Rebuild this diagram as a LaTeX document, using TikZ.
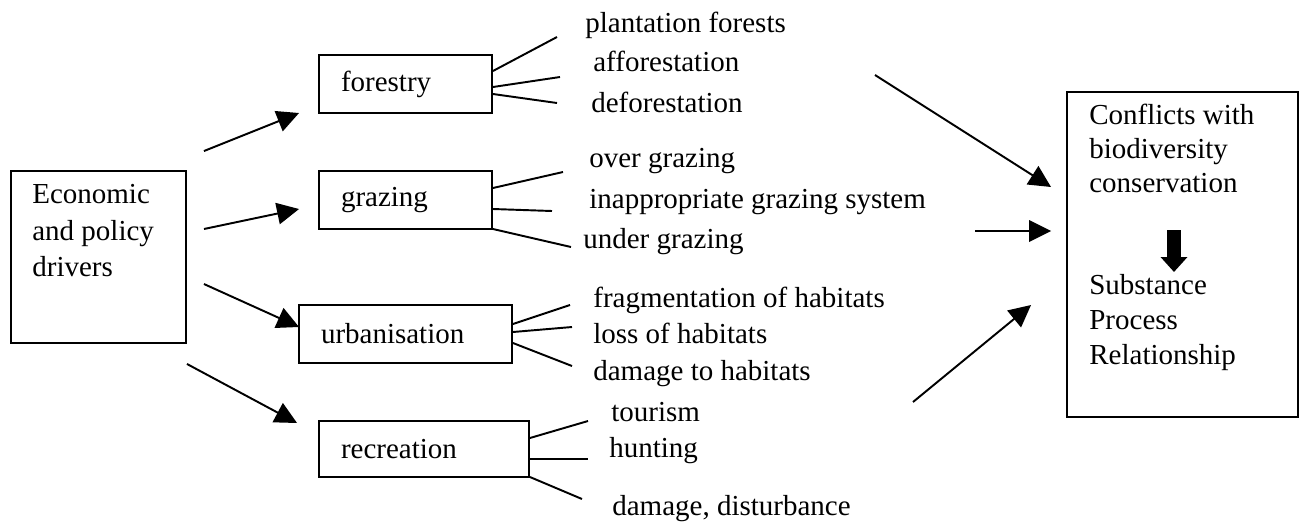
\documentclass[tikz,border=0pt]{standalone}
\usepackage{fontspec}
\setmainfont{Liberation Serif}
\usetikzlibrary{arrows.meta}

\begin{document}
\begin{tikzpicture}[
  x=0.02cm, y=-0.02cm,
  every node/.style = {font=\fontsize{16.5pt}{20.8pt}\selectfont},
  lbl/.style    = {anchor=base west, inner sep=0pt},
  txt/.style    = {anchor=north west, inner sep=0pt, align=left},
  box/.style    = {draw, line width=1.1pt, inner xsep=0.44cm, inner ysep=0pt,
                   align=left, minimum height=1.16cm},
  bigbox/.style = {draw, line width=1.1pt},
  fan/.style    = {line width=1.1pt},
  arr/.style    = {-{Triangle[length=0.44cm, width=0.43cm]}, line width=1.1pt},
  fatarr/.style = {-{Triangle[length=0.3cm, width=0.52cm]}, line width=0.28cm},
]
  \useasboundingbox (0,0) rectangle (1302,522);

  % drivers
  \node[bigbox, minimum width=3.5cm, minimum height=3.44cm] (drv) at (98.5,257) {};
  \node[txt] (drvtxt) at (32,184) {Economic\\and policy\\drivers};

  % land uses
  \node[box, text width=2.58cm] (fo) at (405.5,84)  {forestry};
  \node[box, text width=2.58cm] (gr) at (405.5,200) {grazing};
  \node[box, text width=3.38cm] (ur) at (405.5,334) {urbanisation};
  \node[box, text width=3.32cm, minimum height=1.12cm] (re) at (424,449) {recreation};

  % impacts
  \node[lbl] (pf)  at (585,32)  {plantation forests};
  \node[lbl] (af)  at (593,71)  {afforestation};
  \node[lbl] (df)  at (591,112) {deforestation};
  \node[lbl] (og)  at (589,167) {over grazing};
  \node[lbl] (ig)  at (589,208) {inappropriate grazing system};
  \node[lbl] (ug)  at (583,248) {under grazing};
  \node[lbl] (fh)  at (593,307) {fragmentation of habitats};
  \node[lbl] (lh)  at (593,343) {loss of habitats};
  \node[lbl] (dh)  at (593,380) {damage to habitats};
  \node[lbl] (tou) at (611,421) {tourism};
  \node[lbl] (hu)  at (609,457) {hunting};
  \node[lbl] (dd)  at (612,515) {damage, disturbance};

  % conflicts
  \node[bigbox, minimum width=4.62cm, minimum height=6.5cm] (cb) at (1182.5,254.5) {};
  \node[txt, font=\fontsize{16.5pt}{19.3pt}\selectfont] (cfl) at (1089,104)
       {Conflicts with\\biodiversity\\conservation};
  \node[txt, font=\fontsize{16.5pt}{19.9pt}\selectfont] (spr) at (1089,274)
       {Substance\\Process\\Relationship};

  % fans
  \draw[fan] (fo.east |- 0,71)  -- ([shift={(-28,5)}]pf.base west);
  \draw[fan] (fo.east |- 0,87)  -- ([shift={(-33,6)}]af.base west);
  \draw[fan] (fo.east |- 0,94)  -- ([shift={(-34,-9)}]df.base west);
  \draw[fan] (gr.east |- 0,188) -- ([shift={(-26,5)}]og.base west);
  \draw[fan] (gr.east |- 0,209) -- ([shift={(-37,3)}]ig.base west);
  \draw[fan] (gr.east |- 0,229) -- ([shift={(-12,-1)}]ug.base west);
  \draw[fan] (ur.east |- 0,324) -- ([shift={(-23,-2)}]fh.base west);
  \draw[fan] (ur.east |- 0,332) -- ([shift={(-21,-16)}]lh.base west);
  \draw[fan] (ur.east |- 0,343) -- ([shift={(-21,-14)}]dh.base west);
  \draw[fan] (re.east |- 0,438) -- ([shift={(-23,0)}]tou.base west);
  \draw[fan] (re.east |- 0,459) -- ([shift={(-21,2)}]hu.base west);
  \draw[fan] (re.east |- 0,477) -- ([shift={(-30,-16)}]dd.base west);

  % drivers to land uses
  \draw[arr] ([shift={(17,-19)}]drv.north east) -- ([shift={(-19,29)}]fo.west);
  \draw[arr] ([shift={(17,-28)}]drv.east)       -- ([shift={(-19,9)}]gr.west);
  \draw[arr] ([shift={(17,27)}]drv.east)        -- ([shift={(1,-7)}]ur.west);
  \draw[arr] ([shift={(0,20)}]drv.south east)   -- ([shift={(-21,-26)}]re.west);

  % impacts to conflicts
  \coordinate (fo-out) at (875,75);
  \coordinate (gr-out) at (975,231);
  \coordinate (re-out) at (913,402);
  \draw[arr] (fo-out) -- ([shift={(-15,-67.5)}]cb.west);
  \draw[arr] (gr-out) -- ([shift={(-15,-23.5)}]cb.west);
  \draw[arr] (re-out) -- ([shift={(-35,50.5)}]cb.west);

  \draw[fatarr, shorten <=0.74cm, shorten >=0.04cm]
       (1174,0 |- cfl.south) -- (1174,0 |- spr.north);
\end{tikzpicture}
\end{document}
